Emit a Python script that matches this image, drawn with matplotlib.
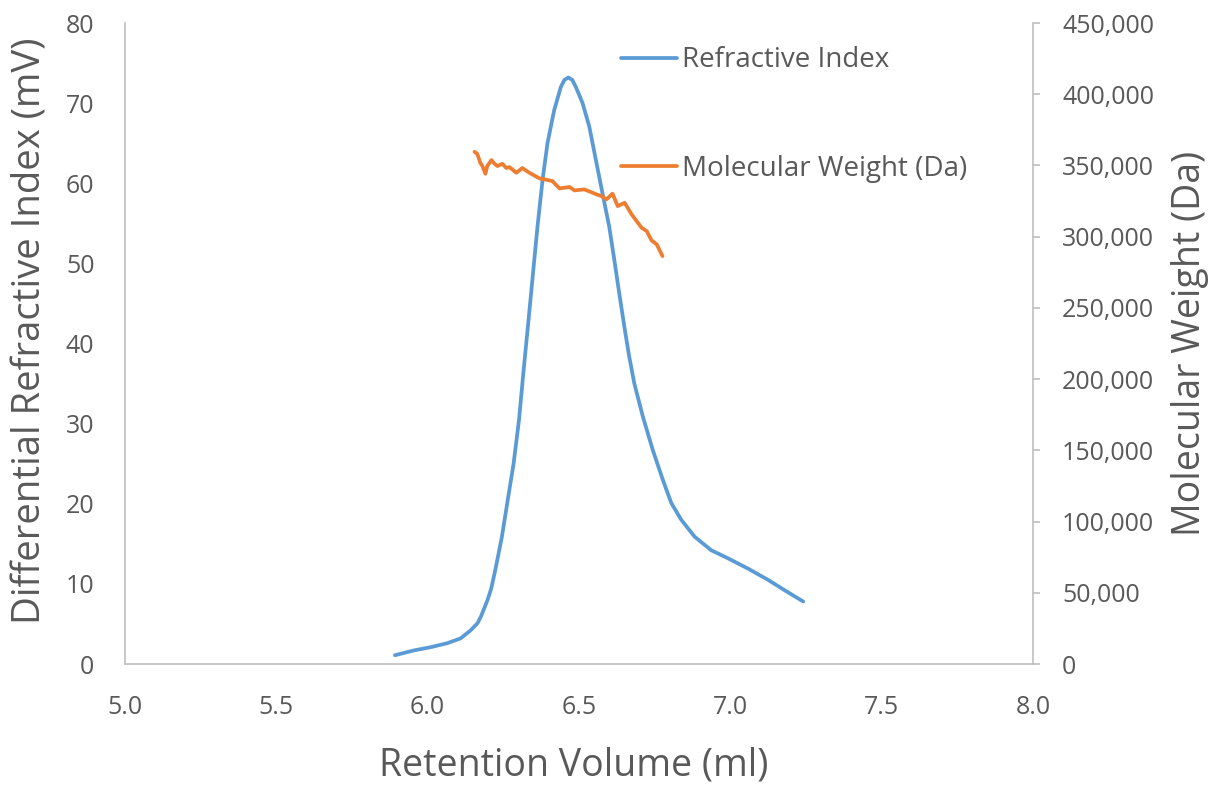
import matplotlib.pyplot as plt
from matplotlib.ticker import FuncFormatter

plt.rcParams['font.family'] = ['Open Sans', 'DejaVu Sans']

# Refractive index trace (ml, mV)
ri_vol = [5.892, 5.955, 6.010, 6.065, 6.109, 6.142, 6.165, 6.177, 6.198, 6.210,
          6.225, 6.245, 6.264, 6.284, 6.302, 6.318, 6.331, 6.347, 6.363, 6.380,
          6.396, 6.418, 6.440, 6.452, 6.465, 6.478, 6.490, 6.512, 6.534, 6.556,
          6.578, 6.600, 6.617, 6.633, 6.650, 6.665, 6.683, 6.711, 6.744, 6.777,
          6.805, 6.838, 6.882, 6.937, 6.992, 7.059, 7.125, 7.180, 7.241]
ri_mv = [1.1, 1.7, 2.1, 2.6, 3.2, 4.2, 5.1, 6.0, 8.0, 9.4,
         12.0, 15.8, 20.3, 25.0, 30.5, 37.0, 42.0, 48.3, 54.6, 60.5,
         65.0, 69.1, 72.0, 72.9, 73.2, 72.9, 72.0, 70.0, 67.1, 62.9,
         58.7, 54.6, 50.4, 46.3, 42.1, 38.6, 35.0, 30.9, 26.7, 23.0,
         20.1, 18.0, 15.9, 14.2, 13.2, 11.9, 10.5, 9.2, 7.8]

# Molecular weight trace (ml, Da)
mw_vol = [6.155, 6.164, 6.174, 6.181, 6.191, 6.197, 6.211, 6.221, 6.231, 6.247,
          6.260, 6.270, 6.293, 6.313, 6.336, 6.369, 6.412, 6.436, 6.469, 6.485,
          6.518, 6.558, 6.575, 6.591, 6.611, 6.628, 6.651, 6.674, 6.707, 6.724,
          6.740, 6.757, 6.776]
mw_da = [359600, 358200, 351900, 349600, 344200, 349600, 353800, 351200, 349600, 351200,
         348200, 348900, 344900, 348200, 344900, 341000, 339100, 333900, 334900, 332500,
         333200, 329700, 328500, 326200, 330200, 321500, 323800, 315700, 306300, 303900,
         297400, 294600, 286400]

blue = '#5B9BD5'
orange = '#ED7D31'
grey = '#BFBFBF'
txt = '#595959'

fig = plt.figure(figsize=(12.24, 7.89), dpi=100)
ax = fig.add_axes([0.1021, 0.1584, 0.7418, 0.8124])
ax2 = ax.twinx()

l1, = ax.plot(ri_vol, ri_mv, color=blue, lw=2.7, label='Refractive Index',
              solid_joinstyle='round', solid_capstyle='round')
l2, = ax2.plot(mw_vol, mw_da, color=orange, lw=2.7, label='Molecular Weight (Da)',
               solid_joinstyle='round', solid_capstyle='round')

ax.set_xlim(5.0, 8.0)
ax.set_ylim(0, 80)
ax2.set_ylim(0, 450000)
ax.set_xticks([5.0, 5.5, 6.0, 6.5, 7.0, 7.5, 8.0])
ax.set_yticks(range(0, 81, 10))
ax2.set_yticks(range(0, 450001, 50000))
ax.xaxis.set_major_formatter(FuncFormatter(lambda v, p: f'{v:.1f}'))
ax2.yaxis.set_major_formatter(FuncFormatter(lambda v, p: f'{int(v):,}'))

for a in (ax, ax2):
    a.spines['top'].set_visible(False)
    for s in ('left', 'right', 'bottom'):
        a.spines[s].set_color(grey)
        a.spines[s].set_linewidth(1.2)
ax.spines['right'].set_visible(False)
ax2.spines['left'].set_visible(False)
ax2.spines['bottom'].set_visible(False)

ax.tick_params(axis='y', length=0, labelsize=18, colors=txt, pad=22)
ax.tick_params(axis='x', length=0, labelsize=18, colors=txt, pad=22.5)
ax2.tick_params(axis='y', length=5, width=1.2, color=grey, labelsize=18,
                labelcolor=txt, pad=16)

ax.set_xlabel('Retention Volume (ml)', fontsize=27, color=txt)
ax.set_ylabel('Differential Refractive Index (mV)', fontsize=27.5, color=txt)
ax2.set_ylabel('Molecular Weight (Da)', fontsize=27, color=txt, labelpad=12)
ax.xaxis.set_label_coords(0.4945, -0.128)
ax.yaxis.set_label_coords(-0.083, 0.52)

fig.legend(handles=[l1, l2], loc='upper left', bbox_to_anchor=(0.487, 0.973),
           frameon=False, fontsize=20, labelcolor=txt, handlelength=2.0,
           handletextpad=0.2, labelspacing=2.91)

fig.savefig('out.png', dpi=100)
